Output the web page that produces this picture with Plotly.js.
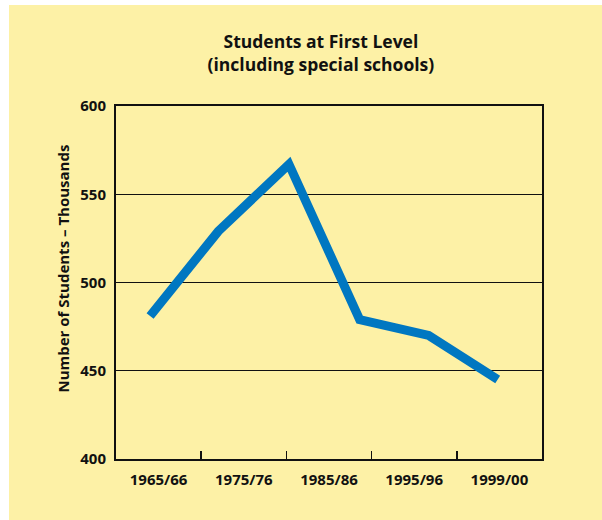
<!DOCTYPE html>
<html>
<head>
<meta charset="utf-8">
<script src="https://cdn.plot.ly/plotly-3.0.1.min.js"></script>
<style>
  body { margin: 0; background: #ffffff; }
  #plot { position: absolute; left: 9px; top: 5px; width: 593px; height: 515px; }
</style>
</head>
<body>
<div id="plot"></div>
<script>
// period labels on the x axis
var periods = ["1965/66", "1975/76", "1985/86", "1995/96", "1999/00"];
// where each reading sits along the x axis (in period units)
var xPos = [0.40, 1.20, 2.03, 2.86, 3.67, 4.48];
// students, thousands
var students = [481, 529, 567, 479, 470, 445];

var bg = "#FDF1A6";
var ink = "#111111";
var fnt = "Open Sans, Liberation Sans, sans-serif";

var trace = {
  type: "scatter",
  mode: "lines",
  x: xPos,
  y: students,
  xaxis: "x",
  yaxis: "y",
  line: { color: "#0077C1", width: 9 },
  hoverinfo: "skip",
  showlegend: false
};

// boundary ticks between the periods, drawn by an overlaid axis
var tickHelper = {
  type: "scatter",
  mode: "lines",
  x: [0, 5],
  y: [400, 400],
  xaxis: "x2",
  yaxis: "y",
  line: { width: 0 },
  hoverinfo: "skip",
  showlegend: false
};

var layout = {
  width: 593,
  height: 515,
  paper_bgcolor: bg,
  plot_bgcolor: bg,
  margin: { l: 107, r: 60, t: 101, b: 61 },
  font: { family: fnt, color: ink, size: 15 },
  title: {
    text: "<b>Students at First Level<br>(including special schools)</b>",
    font: { family: fnt, size: 17.5, color: ink },
    x: 0.526,
    xanchor: "center",
    y: 0.916,
    yanchor: "middle"
  },
  xaxis: {
    range: [0, 5],
    tickvals: [0.5, 1.5, 2.5, 3.5, 4.5],
    ticktext: periods.map(function(p) { return "<b>" + p + "</b>"; }),
    ticks: "",
    ticklabelstandoff: 6,
    showgrid: false,
    zeroline: false,
    showline: true,
    mirror: true,
    linecolor: ink,
    linewidth: 2,
    tickfont: { family: fnt, size: 15, color: ink },
    fixedrange: true
  },
  xaxis2: {
    overlaying: "x",
    anchor: "y",
    side: "bottom",
    range: [0, 5],
    tickvals: [1, 2, 3, 4],
    ticks: "inside",
    ticklen: 8,
    tickwidth: 1.5,
    tickcolor: ink,
    showticklabels: false,
    showgrid: false,
    zeroline: false,
    showline: false,
    fixedrange: true
  },
  yaxis: {
    range: [400, 600],
    dtick: 50,
    tick0: 400,
    ticks: "",
    ticklabelstandoff: 5,
    showgrid: true,
    gridcolor: ink,
    gridwidth: 1.3,
    zeroline: false,
    showline: true,
    mirror: true,
    linecolor: ink,
    linewidth: 2,
    tickfont: { family: fnt, size: 15, color: ink },
    tickprefix: "<b>",
    ticksuffix: "</b>",
    fixedrange: true
  },
  annotations: [{
    text: "<b>Number of Students – Thousands</b>",
    xref: "paper",
    yref: "paper",
    x: -0.124,
    y: 0.54,
    xanchor: "center",
    yanchor: "middle",
    textangle: -90,
    showarrow: false,
    font: { family: fnt, size: 15, color: ink }
  }]
};

Plotly.newPlot("plot", [tickHelper, trace], layout, { displayModeBar: false, staticPlot: true });
</script>
</body>
</html>
